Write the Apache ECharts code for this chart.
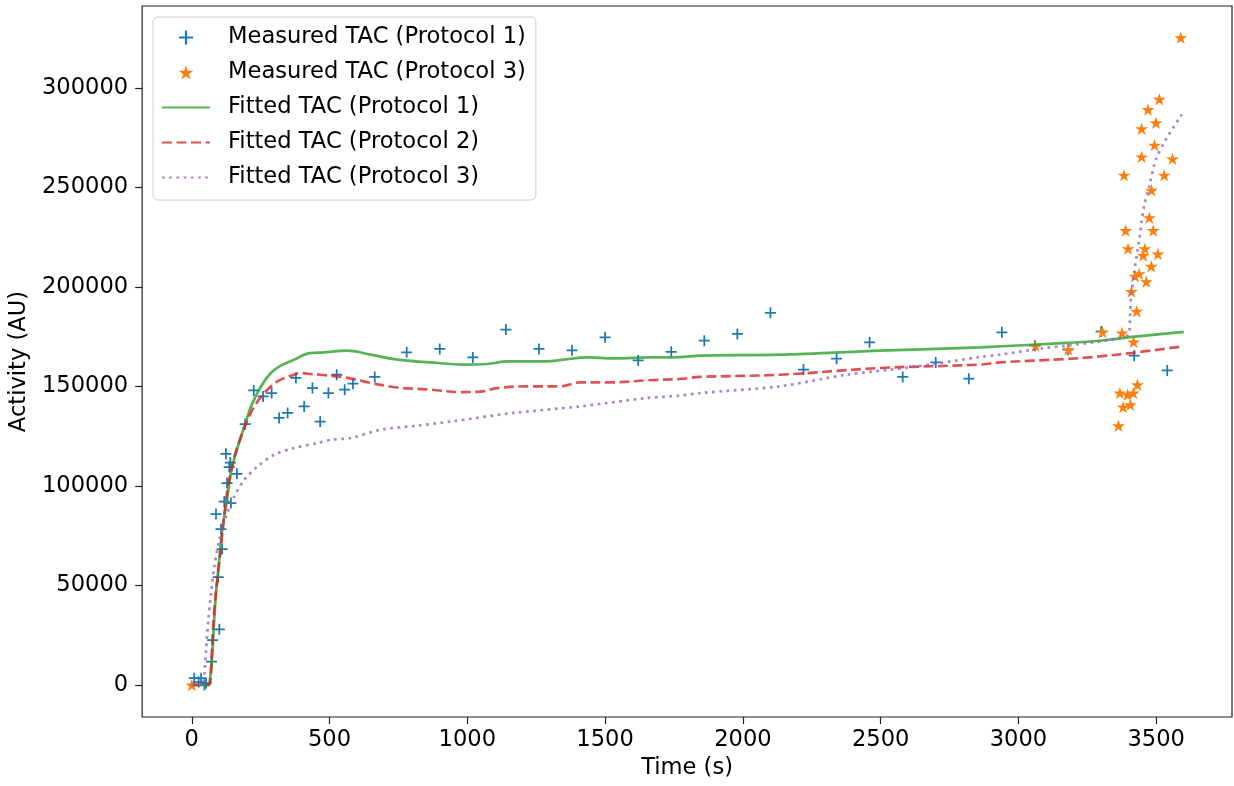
<!DOCTYPE html>
<html>
<head>
<meta charset="utf-8">
<script src="https://cdn.jsdelivr.net/npm/echarts@6/dist/echarts.min.js"></script>
<style>
html,body{margin:0;padding:0;background:#fff;}
#chart{width:1234px;height:786px;}
</style>
</head>
<body>
<div id="chart"></div>
<script>
// ---- data (time in s, activity in AU) ----
const measuredP1 = [
  [9,3400],[25,1500],[34,3400],[46,0],[52,900],
  [72,11700],[76,22600],[88,85900],[96,54200],[100,28000],[106,78300],[110,68300],
  [118,92200],[124,116200],[128,101500],[136,109500],[140,111800],[142,91400],[164,106100],
  [194,131100],[225,148000],[259,145000],[290,146700],[317,134200],[348,136700],[378,154300],
  [408,140000],[438,149200],[466,132400],[496,146700],[526,155900],[555,148400],[585,151400],
  [664,154800],[780,167200],[900,168900],[1020,164600],[1140,178600],[1260,168900],[1380,168200],
  [1500,174700],[1620,163100],[1740,167400],[1860,173000],[1980,176400],[2100,187000],[2220,158500],
  [2340,164000],[2460,172200],[2580,154800],[2700,162100],[2820,153900],[2940,177200],[3060,170500],
  [3180,168500],[3300,177600],[3420,165500],[3540,158100]
];
const measuredP3 = [
  [0,0],[3062,170500],[3181,168500],[3305,177400],[3363,130300],[3368,146700],[3376,176900],
  [3380,139700],[3383,256200],[3389,228400],[3396,145900],[3398,219300],[3406,140800],[3410,197700],
  [3417,146700],[3418,172400],[3423,205400],[3429,187800],[3432,150900],[3438,206700],[3447,279500],
  [3447,265400],[3453,215800],[3459,219300],[3464,202700],[3470,289200],[3475,234800],[3482,210400],
  [3483,248600],[3489,228400],[3494,271300],[3499,282500],[3506,216600],[3511,294300],[3529,256200],
  [3559,264400],[3589,325300]
];
const fittedP1 = [
  [0,0],[60,0],[66,3000],[73,12600],[80,29300],[88,46100],[100,62900],[112,79600],[128,93100],
  [142,106500],[160,116500],[179,124900],[197,132400],[215,140000],[251,150000],[287,156800],
  [323,160500],[372,163500],[420,166500],[480,167100],[565,168000],[649,166000],[746,163500],
  [867,162100],[987,161000],[1072,161300],[1145,162600],[1289,162600],[1350,163500],[1434,164600],
  [1531,164100],[1652,164600],[1772,164800],[1845,165500],[2134,166000],[2497,168000],[2859,169700],
  [3173,171900],[3294,173000],[3414,174900],[3600,177400]
];
const fittedP2 = [
  [0,0],[60,0],[66,1000],[70,5900],[73.5,17600],[82,37700],[94,54500],[106,69600],[116,83000],
  [130,98100],[152,113200],[179,124900],[203,133300],[227,140000],[263,146700],[311,152600],
  [360,155400],[396,156800],[420,156400],[468,155900],[565,154300],[649,151800],[746,149500],
  [867,148400],[975,147200],[1048,147400],[1108,149200],[1229,150100],[1338,150100],[1410,152100],
  [1531,152100],[1652,153100],[1772,153800],[1845,154800],[2134,155900],[2497,159300],[2859,161000],
  [2931,162100],[3173,163800],[3294,165100],[3414,166900],[3600,170200]
];
const fittedP3 = [
  [0,0],[40,0],[46,5900],[52,17600],[60,32700],[70,46100],[82,59500],[100,72900],[124,84700],
  [154,94700],[191,103100],[239,109800],[299,115700],[372,119100],[456,121600],[505,123200],
  [577,124100],[686,128300],[819,130300],[939,132400],[1168,136700],[1410,140000],[1652,144200],
  [1772,145400],[1845,146700],[2134,150100],[2376,155900],[2617,159800],[2859,164800],[2931,166000],
  [3100,169400],[3173,170500],[3294,172700],[3390,175200],[3402,177500],[3405,185000],[3408,193700],
  [3420,207100],[3438,223800],[3456,240600],[3475,250700],[3499,264100],[3535,274100],[3565,280800],
  [3593,286700]
];
const xTicks = [0,500,1000,1500,2000,2500,3000,3500];
const yTicks = [0,50000,100000,150000,200000,250000,300000];
const seriesNames = ['Measured TAC (Protocol 1)','Measured TAC (Protocol 3)','Fitted TAC (Protocol 1)','Fitted TAC (Protocol 2)','Fitted TAC (Protocol 3)'];

// ---- styling ----
const FONT = 'DejaVu Sans';
const FS = 22.6;
const plusPath = 'path://M4.2,0 H5.8 V4.2 H10 V5.8 H5.8 V10 H4.2 V5.8 H0 V4.2 H4.2 Z';
const starPath = 'path://M50,0 L61.23,34.55 L97.55,34.55 L68.17,55.9 L79.39,90.45 L50,69.1 L20.61,90.45 L31.83,55.9 L2.45,34.55 L38.77,34.55 Z';
const plain = v => String(v);
const hideSym = {opacity: 0, color: 'transparent', borderColor: 'transparent'};

const chart = echarts.init(document.getElementById('chart'), null, {renderer:'canvas'});
chart.setOption({
  animation: false,
  backgroundColor: '#ffffff',
  textStyle: {fontFamily: FONT},
  grid: {left: 141.5, right: 2, top: 6, bottom: 69, show: true, borderColor: '#222', borderWidth: 1.2, backgroundColor: 'transparent'},
  legend: {
    orient: 'vertical', left: 153, top: 17,
    padding: [9, 10, 11, 8],
    itemGap: 12, itemWidth: 48, itemHeight: 14,
    backgroundColor: 'rgba(255,255,255,0.8)', borderColor: '#cccccc', borderWidth: 1, borderRadius: 5,
    textStyle: {fontFamily: FONT, fontSize: FS, color: '#000', lineHeight: 22, padding: [0,0,0,13]},
    data: [
      {name: seriesNames[0], icon: plusPath, itemStyle: {color: '#1f77b4', opacity: 1}},
      {name: seriesNames[1], icon: starPath, itemStyle: {color: '#ff7f0e', opacity: 1}},
      {name: seriesNames[2], itemStyle: hideSym},
      {name: seriesNames[3], itemStyle: hideSym},
      {name: seriesNames[4], itemStyle: hideSym}
    ]
  },
  xAxis: {
    type: 'value', min: -180, max: 3775,
    name: 'Time (s)', nameLocation: 'middle', nameGap: 38,
    nameTextStyle: {fontFamily: FONT, fontSize: FS, color: '#000'},
    axisLine: {show: false, onZero: false},
    axisTick: {show: true, length: 7, lineStyle: {color: '#222', width: 1.2}, customValues: xTicks},
    axisLabel: {fontFamily: FONT, fontSize: FS, color: '#000', margin: 12, customValues: xTicks, formatter: plain},
    splitLine: {show: false}
  },
  yAxis: {
    type: 'value', min: -16080, max: 341200,
    name: 'Activity (AU)', nameLocation: 'middle', nameGap: 108,
    nameTextStyle: {fontFamily: FONT, fontSize: FS, color: '#000'},
    axisLine: {show: false, onZero: false},
    axisTick: {show: true, length: 7, lineStyle: {color: '#222', width: 1.2}, customValues: yTicks},
    axisLabel: {fontFamily: FONT, fontSize: FS, color: '#000', margin: 14, customValues: yTicks, formatter: plain},
    splitLine: {show: false}
  },
  series: [
    {name: seriesNames[0], type: 'scatter', data: measuredP1, symbol: plusPath, symbolSize: 11,
     itemStyle: {color: '#1f77b4', opacity: 1}, z: 3},
    {name: seriesNames[1], type: 'scatter', data: measuredP3, symbol: starPath, symbolSize: 13, symbolKeepAspect: true,
     itemStyle: {color: '#ff7f0e', opacity: 1}, z: 3},
    {name: seriesNames[2], type: 'line', data: fittedP1, symbol: 'none', smooth: 0.35,
     lineStyle: {color: '#2ca02c', width: 2.7, opacity: 0.8}, itemStyle: {color: '#2ca02c'}, z: 4},
    {name: seriesNames[3], type: 'line', data: fittedP2, symbol: 'none', smooth: 0.35,
     lineStyle: {color: '#d62728', width: 2.7, opacity: 0.8, type: [10, 4.5]}, itemStyle: {color: '#d62728'}, z: 4},
    {name: seriesNames[4], type: 'line', data: fittedP3, symbol: 'none', smooth: 0.3,
     lineStyle: {color: '#9467bd', width: 2.7, opacity: 0.8, type: [2.7, 4.5]}, itemStyle: {color: '#9467bd'}, z: 4}
  ]
});
</script>
</body>
</html>
